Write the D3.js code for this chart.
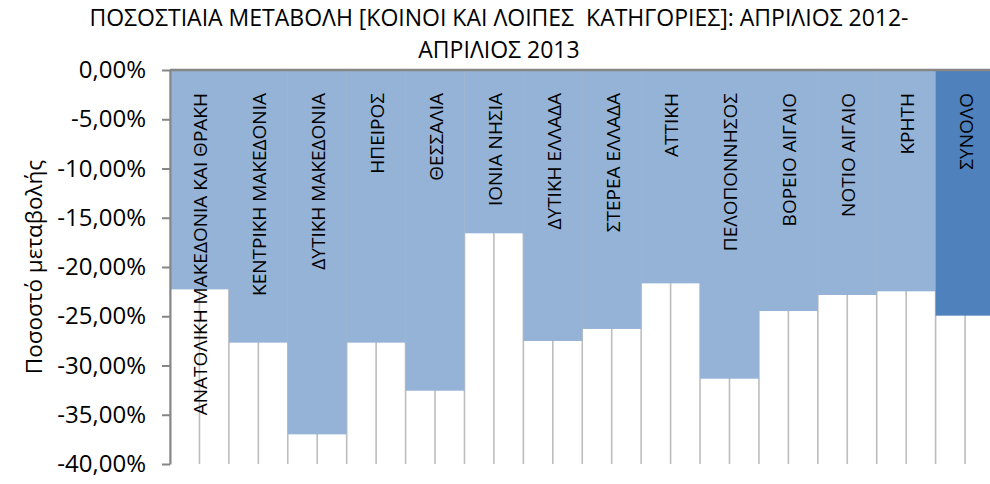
<!DOCTYPE html>
<html><head><meta charset="utf-8">
<script src="https://cdn.jsdelivr.net/npm/d3@7"></script>
<style>
body{margin:0;background:#fff}
svg text{font-family:"Open Sans","Noto Sans",sans-serif;fill:#000}
</style>
</head><body>
<svg id="chart" width="990" height="484"></svg>
<script>
const categories = [
  "ΑΝΑΤΟΛΙΚΗ ΜΑΚΕΔΟΝΙΑ ΚΑΙ ΘΡΑΚΗ",
  "ΚΕΝΤΡΙΚΗ ΜΑΚΕΔΟΝΙΑ",
  "ΔΥΤΙΚΗ ΜΑΚΕΔΟΝΙΑ",
  "ΗΠΕΙΡΟΣ",
  "ΘΕΣΣΑΛΙΑ",
  "ΙΟΝΙΑ ΝΗΣΙΑ",
  "ΔΥΤΙΚΗ ΕΛΛΑΔΑ",
  "ΣΤΕΡΕΑ ΕΛΛΑΔΑ",
  "ΑΤΤΙΚΗ",
  "ΠΕΛΟΠΟΝΝΗΣΟΣ",
  "ΒΟΡΕΙΟ ΑΙΓΑΙΟ",
  "ΝΟΤΙΟ ΑΙΓΑΙΟ",
  "ΚΡΗΤΗ",
  "ΣΥΝΟΛΟ"
];
const values = [-0.2227, -0.2768, -0.3699, -0.2768, -0.3256, -0.1658, -0.2751, -0.2629, -0.2166, -0.3134, -0.2447, -0.2284, -0.2247, -0.2494];
const totalCategory = "ΣΥΝΟΛΟ";
const titleLines = ["ΠΟΣΟΣΤΙΑΙΑ ΜΕΤΑΒΟΛΗ [ΚΟΙΝΟΙ ΚΑΙ ΛΟΙΠΕΣ  ΚΑΤΗΓΟΡΙΕΣ]: ΑΠΡΙΛΙΟΣ 2012-", "ΑΠΡΙΛΙΟΣ 2013"];
const yTicks = [0, -0.05, -0.10, -0.15, -0.20, -0.25, -0.30, -0.35, -0.40];
const yDomain = [0, -0.40];
const yLabel = "Ποσοστό μεταβολής";

const svg = d3.select("#chart");
const plot = {left:170, right:994.5, top:70, bottom:464};

const x = d3.scaleBand().domain(categories).range([plot.left, plot.right]).padding(0);
const y = d3.scaleLinear().domain(yDomain).range([plot.top, plot.bottom]);

const loc = d3.formatLocale({decimal:",", thousands:".", grouping:[3], currency:["","€"], minus:"-", percent:"%"});
const fmt = loc.format(".2%");

// Title
svg.append("g").selectAll("text").data(titleLines).join("text")
  .attr("x", 499).attr("y", (d,i) => 26 + i*31.5)
  .attr("text-anchor","middle").style("font-size","23px")
  .attr("xml:space","preserve")
  .text(d => d);

// vertical gridlines (category boundaries and centers)
const gridX = [];
categories.forEach(c => { gridX.push(x(c)); gridX.push(x(c) + x.bandwidth()/2); });
svg.append("g").selectAll("line").data(gridX).join("line")
  .attr("x1", d => d).attr("x2", d => d)
  .attr("y1", y(yDomain[0])).attr("y2", y(yDomain[1]))
  .attr("stroke","#BDBDBD").attr("stroke-width",1.6);

// bars
svg.append("g").selectAll("rect").data(categories).join("rect")
  .attr("x", d => x(d)).attr("width", x.bandwidth())
  .attr("y", y(0)).attr("height", (d,i) => y(values[i]) - y(0))
  .attr("fill", d => d === totalCategory ? "#4F81BD" : "#95B3D7");

// category labels
svg.append("g").selectAll("text").data(categories).join("text")
  .attr("transform", d => `translate(${x(d) + x.bandwidth()/2 + 1},93) rotate(-90)`)
  .attr("text-anchor","end").attr("dy","0.36em")
  .style("font-size","19px")
  .text(d => d);

// y axis
const yAxis = d3.axisLeft(y).tickValues(yTicks).tickFormat(fmt).tickSize(8).tickSizeOuter(0).tickPadding(16);
const ga = svg.append("g").attr("transform", `translate(${plot.left},0)`).call(yAxis);
ga.select(".domain").attr("stroke","#868686").attr("stroke-width",2);
ga.selectAll(".tick line").attr("stroke","#868686").attr("stroke-width",2);
ga.selectAll(".tick text").style("font-size","24px").attr("fill","#000");

// zero line (category axis)
svg.append("line")
  .attr("x1", plot.left).attr("x2", plot.right)
  .attr("y1", y(0)).attr("y2", y(0))
  .attr("stroke","#868686").attr("stroke-width",2.5);

// y axis title
svg.append("text")
  .attr("transform", `translate(42,${(plot.top+plot.bottom)/2}) rotate(-90)`)
  .attr("text-anchor","middle")
  .style("font-size","22.5px")
  .text(yLabel);
</script>
</body></html>
